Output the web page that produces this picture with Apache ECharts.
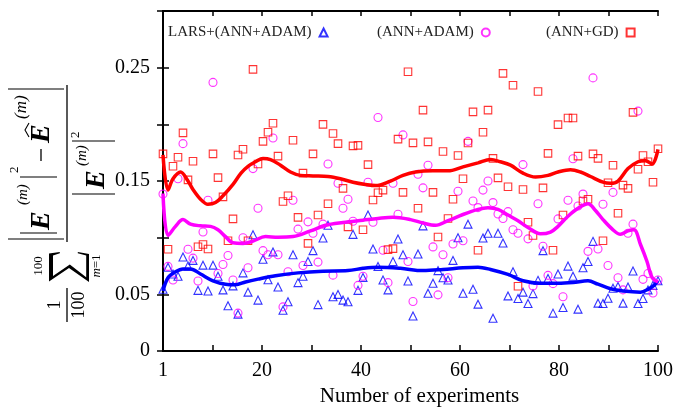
<!DOCTYPE html>
<html><head><meta charset="utf-8">
<script src="https://cdn.jsdelivr.net/npm/echarts@6/dist/echarts.min.js"></script>
<style>html,body{margin:0;padding:0;background:#fff}#c{width:676px;height:412px}</style>
</head><body><div id="c"></div>
<script>
const experiments = [1,2,3,4,5,6,7,8,9,10,11,12,13,14,15,16,17,18,19,20,21,22,23,24,25,26,27,28,29,30,31,32,33,34,35,36,37,38,39,40,41,42,43,44,45,46,47,48,49,50,51,52,53,54,55,56,57,58,59,60,61,62,63,64,65,66,67,68,69,70,71,72,73,74,75,76,77,78,79,80,81,82,83,84,85,86,87,88,89,90,91,92,93,94,95,96,97,98,99,100];
const larsAdam = [0.0545,0.074,0.068,0.066,0.083,0.075,0.080,0.0536,0.0758,0.053,0.0758,0.066,0.054,0.040,0.0575,0.0326,0.069,0.052,0.1026,0.045,0.081,0.063,0.0875,0.0566,0.036,0.0435,0.085,0.0604,0.066,0.079,0.0886,0.041,0.0997,0.111,0.048,0.050,0.045,0.0435,0.103,0.0536,0.065,0.120,0.090,0.0747,0.0627,0.054,0.079,0.0989,0.085,0.0618,0.031,0.0857,0.1105,0.051,0.0598,0.071,0.0647,0.0627,0.080,0.100,0.051,0.112,0.0545,0.0414,0.0997,0.104,0.029,0.104,0.0954,0.0487,0.070,0.0464,0.052,0.042,0.0507,0.0624,0.0886,0.064,0.0335,0.068,0.0385,0.075,0.066,0.037,0.0735,0.079,0.0968,0.0423,0.042,0.0466,0.0554,0.057,0.0423,0.0566,0.0706,0.042,0.0464,0.054,0.058,0.062];
const annAdam = [0.1385,0.0747,0.0627,0.152,0.183,0.0898,0.082,0.0618,0.105,0.133,0.237,0.0685,0.0764,0.0843,0.0627,0.0335,0.100,0.0735,0.161,0.126,0.0886,0.085,0.188,0.085,0.039,0.070,0.133,0.1076,0.0755,0.114,0.104,0.0785,0.112,0.165,0.067,0.148,0.126,0.134,0.1146,0.058,0.066,0.149,0.1137,0.206,0.089,0.0604,0.148,0.1207,0.1907,0.079,0.0437,0.156,0.144,0.164,0.0919,0.0496,0.085,0.0647,0.0945,0.141,0.0974,0.185,0.1324,0.1266,0.142,0.150,0.131,0.121,0.117,0.123,0.107,0.104,0.1645,0.099,0.0575,0.130,0.0925,0.0668,0.0595,0.1166,0.0479,0.133,0.1697,0.128,0.1385,0.088,0.241,0.090,0.1295,0.0755,0.140,0.0647,0.054,0.104,0.112,0.2117,0.0633,0.0685,0.0513,0.0627];
const annGd = [0.174,0.0898,0.163,0.171,0.1925,0.151,0.1675,0.092,0.094,0.090,0.174,0.153,0.136,0.0974,0.1166,0.173,0.178,0.0974,0.2485,0.165,0.185,0.193,0.201,0.172,0.132,0.137,0.186,0.118,0.157,0.095,0.174,0.120,0.200,0.130,0.192,0.183,0.1435,0.1096,0.181,0.1815,0.107,0.1645,0.1333,0.1397,0.142,0.0895,0.0904,0.187,0.140,0.2464,0.1837,0.126,0.2126,0.1846,0.140,0.1006,0.176,0.117,0.134,0.1726,0.152,0.1835,0.211,0.089,0.193,0.2126,0.170,0.1528,0.245,0.145,0.2345,0.0572,0.1426,0.1137,0.102,0.229,0.144,0.1744,0.089,0.1998,0.120,0.2056,0.2056,0.172,0.1324,0.134,0.174,0.170,0.0974,0.1485,0.164,0.1216,0.1464,0.1435,0.2106,0.1604,0.1726,0.167,0.149,0.1785];

const larsFitX = [1,2,3.5,5,6.5,8.5,11,13.5,15.5,17.5,20,23.5,28,33,38,41,44,48.5,53,57,61,64,66.5,70,73,76.5,80,83,86,88,90.5,93,96.5,98,99.2,100];
const larsFitY = [0.053,0.0647,0.070,0.0725,0.0725,0.068,0.062,0.059,0.0585,0.061,0.0635,0.0665,0.069,0.0705,0.071,0.073,0.074,0.073,0.071,0.072,0.0735,0.074,0.072,0.0676,0.062,0.0598,0.0598,0.0605,0.062,0.059,0.055,0.053,0.052,0.0545,0.058,0.062];
const adamFitX = [1,2,3.5,5,6.5,8.5,10.5,12,13.5,15,17,19,21.5,24,27,30.5,33.5,37,41,44,47,50.5,53,55.5,58,61,64,66,68,70,72,74,76.5,78.5,80,82,84,86,87.5,89,91,92.5,94,95.2,96.5,97.8,98.8,100];
const adamFitY = [0.139,0.102,0.110,0.116,0.112,0.1105,0.110,0.107,0.101,0.0955,0.095,0.097,0.101,0.1005,0.101,0.106,0.111,0.1135,0.1155,0.117,0.118,0.116,0.113,0.111,0.115,0.1205,0.125,0.1265,0.125,0.120,0.115,0.109,0.1035,0.105,0.110,0.119,0.126,0.130,0.124,0.116,0.107,0.103,0.106,0.107,0.094,0.079,0.065,0.061];
const gdFitX = [1,2,3,4.5,6,7,8.5,10,11.5,13,15,16.6,18,19.5,21,22.5,24.5,26.5,28.5,31,34,36.5,39,41.5,43.5,46.5,49,51.5,55,58,61,64,66.5,68.5,70.5,73,75.5,78,80,82.5,84.5,86.5,89,90.5,92,94,96,97.5,98.8,100];
const gdFitY = [0.173,0.142,0.152,0.158,0.150,0.1425,0.134,0.1295,0.131,0.137,0.147,0.157,0.163,0.167,0.170,0.169,0.164,0.158,0.155,0.1545,0.154,0.152,0.149,0.147,0.146,0.150,0.155,0.158,0.159,0.159,0.1625,0.166,0.169,0.167,0.164,0.157,0.1535,0.155,0.158,0.160,0.158,0.154,0.149,0.148,0.150,0.161,0.167,0.168,0.165,0.178];

const xTickValues = [0,20,40,60,80,100];
const xTickText = ['1','20','40','60','80','100'];
const yTickValues = [0,0.05,0.15,0.25];
const yTickText = ['0','0.05','0.15','0.25'];
const seriesNames = ['LARS+(ANN+ADAM)','(ANN+ADAM)','(ANN+GD)'];
const xAxisName = 'Number of experiments';

const FF = 'Liberation Serif';
function pairs(xs, ys){ return xs.map((x,i)=>[x, ys[i]]); }
function lookup(vals, txt, v){
  for (let i=0;i<vals.length;i++){ if (Math.abs(vals[i]-v) < 1e-9) return txt[i]; }
  return '';
}

const black = '#000';
function ln(x1,y1,x2,y2,w){ return {type:'line', shape:{x1,y1,x2,y2}, style:{stroke:black, lineWidth:w||1.2}}; }
function tx(text,x,y,font,align){ return {type:'text', style:{text, x, y, font, fill:black, align:align||'left', verticalAlign:'middle'}}; }
const S = (u,v)=>[40+30*u, -18+40*v];
const sigmaPts = [[0.02,0],[0.95,0],[1.0,0.27],[0.96,0.27],[0.88,0.1],[0.2,0.1],[0.58,0.52],[0.16,0.93],[0.88,0.93],[0.96,0.72],[1.0,0.72],[0.93,1.0],[0,1.0],[0.47,0.5]].map(p=>S(p[0],p[1]));

const ylabel = {
  type:'group', x:67, y:322, rotation:Math.PI/2,
  children:[
    ln(0,0,34,0,1.3),
    tx('1',17,-12,'18px '+FF,'center'),
    tx('100',17,12,'18px '+FF,'center'),
    {type:'polygon', shape:{points:sigmaPts}, style:{fill:black}},
    tx('100',56,-28,'13px '+FF,'center'),
    {type:'text', style:{text:'{i|m}=1', x:56, y:30, font:'13px '+FF, fill:black, align:'center', verticalAlign:'middle', rich:{i:{fontStyle:'italic', fontFamily:FF, fontSize:13}}}},
    ln(80,0,237,0,1.3),
    ln(83,-59,83,-3,1.2),
    ln(89,-47,89,-10,1.2),
    tx('E',92,-25,'bold italic 28px '+FF),
    tx('(m)',117,-44,'italic 15px '+FF),
    ln(145,-47,145,-10,1.2),
    tx('2',149,-52,'13px '+FF),
    ln(161,-26,173,-26,1.3),
    tx('E',179,-25,'bold italic 28px '+FF),
    {type:'polyline', shape:{points:[[185,-38],[192,-42],[199,-38]]}, style:{stroke:black, lineWidth:1.1, fill:null}},
    tx('(m)',203,-45,'italic 17px '+FF),
    ln(233,-59,233,-3,1.2),
    ln(128,5,128,48,1.2),
    tx('E',133,30,'bold italic 28px '+FF),
    tx('(m)',156,15,'italic 15px '+FF),
    ln(181,5,181,48,1.2),
    tx('2',184,9,'13px '+FF)
  ]
};

function legendCfg(name, left){
  return {data:[name], left, top:25, align:'right', padding:0, itemWidth:8, itemHeight:8, itemGap:0,
    selectedMode:false, textStyle:{fontFamily:FF, fontSize:15, color:'#222', padding:[0,3,0,0]}};
}

const axisLineStyle = {color:black, width:2};
const option = {
  backgroundColor:'#fff',
  animation:false,
  grid:{left:163, right:17, top:11, bottom:58, containLabel:false},
  legend:[legendCfg(seriesNames[0],168), legendCfg(seriesNames[1],377), legendCfg(seriesNames[2],546)],
  xAxis:[
    {type:'value', min:0, max:100, interval:10, position:'bottom',
     axisLine:{lineStyle:axisLineStyle}, axisTick:{inside:true, length:6, lineStyle:{color:black, width:1.5}},
     splitLine:{show:false},
     axisLabel:{color:black, fontFamily:FF, fontSize:20, margin:10, formatter:v=>lookup(xTickValues,xTickText,v)},
     name:xAxisName, nameLocation:'middle', nameGap:33,
     nameTextStyle:{color:black, fontFamily:FF, fontSize:21, padding:[0,0,0,18]}},
    {type:'value', min:1, max:100, show:false},
    {type:'value', min:0, max:100, interval:10, position:'top',
     axisLine:{lineStyle:axisLineStyle}, axisTick:{inside:true, length:5, lineStyle:{color:black, width:1.5}},
     axisLabel:{show:false}, splitLine:{show:false}}
  ],
  yAxis:[
    {type:'value', min:0, max:0.3, interval:0.05, position:'left',
     axisLine:{show:true, lineStyle:axisLineStyle}, axisTick:{show:true, inside:true, length:6, lineStyle:{color:black, width:1.5}},
     splitLine:{show:false},
     axisLabel:{color:black, fontFamily:FF, fontSize:20, margin:13, formatter:v=>lookup(yTickValues,yTickText,v)}},
    {type:'value', min:0, max:0.3, interval:0.05, position:'right',
     axisLine:{show:true, lineStyle:axisLineStyle}, axisTick:{show:true, inside:true, length:6, lineStyle:{color:black, width:1.5}},
     axisLabel:{show:false}, splitLine:{show:false}}
  ],
  graphic:[ylabel],
  series:[
    {name:seriesNames[0], type:'scatter', xAxisIndex:1, symbol:'triangle', symbolSize:8, z:2,
     itemStyle:{color:'rgba(0,0,0,0)', borderColor:'#0000ff', borderWidth:1.1}, data:pairs(experiments, larsAdam)},
    {name:seriesNames[1], type:'scatter', xAxisIndex:1, symbol:'circle', symbolSize:8, z:2,
     itemStyle:{color:'rgba(0,0,0,0)', borderColor:'#ff00ff', borderWidth:1.1}, data:pairs(experiments, annAdam)},
    {name:seriesNames[2], type:'scatter', xAxisIndex:1, symbol:'rect', symbolSize:7.5, z:2,
     itemStyle:{color:'rgba(0,0,0,0)', borderColor:'#ff0000', borderWidth:1.1}, data:pairs(experiments, annGd)},
    {name:'fitLars', type:'line', xAxisIndex:1, smooth:0.35, showSymbol:false, z:3,
     lineStyle:{color:'#0000ff', width:3.5}, data:pairs(larsFitX, larsFitY)},
    {name:'fitAdam', type:'line', xAxisIndex:1, smooth:0.35, showSymbol:false, z:3,
     lineStyle:{color:'#ff00ff', width:3.5}, data:pairs(adamFitX, adamFitY)},
    {name:'fitGd', type:'line', xAxisIndex:1, smooth:0.35, showSymbol:false, z:3,
     lineStyle:{color:'#ff0000', width:3.5}, data:pairs(gdFitX, gdFitY)}
  ]
};
const chart = echarts.init(document.getElementById('c'), null, {renderer:'canvas'});
chart.setOption(option);
</script></body></html>
